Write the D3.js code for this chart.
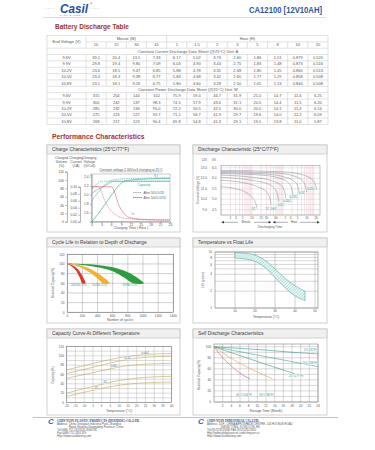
<!DOCTYPE html>
<html lang="en">
<head>
<meta charset="utf-8">
<title>CA12100 [12V10AH]</title>
<script src="https://d3js.org/d3.v7.min.js"></script>
<style>
  body { margin: 0; background: #fff; }
  svg { display: block; }
</style>
</head>
<body>
<script>
// ---------- discharge table ----------
var minuteCols = ["10", "15", "30", "45"];
var hourCols = ["1", "1.5", "2", "3", "5", "8", "10", "20"];
var endVoltages = ["9.6V", "9.9V", "10.2V", "10.5V", "10.8V"];
var currentData = [
  ["39.1", "20.4", "13.5", "7.33", "6.17", "5.02", "3.73", "2.60", "1.86", "1.51", "0.879", "0.520"],
  ["29.8", "19.4", "9.80", "7.09", "6.03", "4.90", "3.44", "2.75", "1.83", "1.48", "0.873", "0.516"],
  ["23.6", "18.5", "9.47", "6.85", "5.88", "4.78", "3.35", "2.68", "1.80", "1.45", "0.860", "0.513"],
  ["23.4", "18.3", "9.38", "6.77", "5.84", "4.68", "3.42", "2.60", "1.77", "1.29", "0.858", "0.508"],
  ["23.1", "18.1", "9.26", "6.75", "5.80", "4.60", "3.28", "2.50", "1.65", "1.13", "0.840", "0.508"]
];
var powerData = [
  ["315", "254", "144", "102", "75.9", "59.4", "44.7", "31.9", "21.0", "14.7", "11.6", "6.25"],
  ["300", "242", "137", "98.3", "74.5", "57.9", "43.6", "31.1", "20.5", "14.4", "11.5", "6.20"],
  ["285", "232", "136", "95.0", "72.2", "56.5", "42.5", "30.0", "20.0", "14.1", "11.4", "6.14"],
  ["275", "223", "127", "92.7", "71.1", "56.7", "41.9", "29.7", "19.6", "14.0", "11.2", "6.09"],
  ["268", "217", "123", "90.4", "69.8", "54.8", "41.3", "29.1", "19.5", "13.8", "11.0", "5.87"]
];

// ---------- charge characteristics ----------
var chargeHours = [0, 1, 2, 3, 4, 5, 6, 7, 8, 9, 10, 12, 15, 18, 21, 24];
var capacity100 = [0, 9, 19, 30, 41, 52, 63, 74, 84, 92, 97, 100, 102, 103, 104, 104];
var capacity50 = [50, 60, 70, 80, 89, 95, 99, 101, 102, 103, 103, 104, 104, 105, 105, 105];
var current100 = [0.1, 0.1, 0.1, 0.1, 0.1, 0.1, 0.1, 0.085, 0.055, 0.035, 0.022, 0.011, 0.007, 0.006, 0.005, 0.005];
var current50 = [0.1, 0.1, 0.1, 0.085, 0.06, 0.042, 0.03, 0.022, 0.016, 0.012, 0.01, 0.008, 0.006, 0.005, 0.005, 0.005];
var voltage100 = [2.02, 2.08, 2.12, 2.16, 2.2, 2.24, 2.28, 2.3, 2.3, 2.3, 2.3, 2.3, 2.3, 2.3, 2.3, 2.3];
var voltage50 = [2.12, 2.2, 2.26, 2.3, 2.3, 2.3, 2.3, 2.3, 2.3, 2.3, 2.3, 2.3, 2.3, 2.3, 2.3, 2.3];
var capacityTicks = [0, 20, 40, 60, 80, 100, 120];
var currentTicks = [0, 0.02, 0.04, 0.06, 0.08, 0.1];
var voltageTicks = [1.6, 1.8, 2.0, 2.2, 2.4];
var chargeTimeTicks = [0, 3, 6, 9, 12, 15, 18, 21, 24];

// ---------- discharge characteristic (minutes, volts) ----------
var dischargeRates = ["2C", "1C", "0.6C", "0.4C", "0.25C", "0.17C", "0.1C", "0.05C"];
var dischargeCurves = [
  [[1, 11.2], [3, 11.0], [6, 10.7], [10, 10.2], [13, 9.7], [15, 9.1]],
  [[1, 11.8], [5, 11.6], [15, 11.2], [30, 10.7], [38, 10.1], [42, 9.5]],
  [[1, 12.1], [10, 11.8], [30, 11.5], [55, 11.0], [68, 10.4], [74, 9.8]],
  [[1, 12.3], [10, 12.1], [40, 11.8], [90, 11.3], [115, 10.7], [125, 10.1]],
  [[1, 12.45], [20, 12.3], [80, 12.0], [160, 11.5], [200, 10.9], [215, 10.3]],
  [[1, 12.55], [30, 12.4], [120, 12.1], [260, 11.6], [320, 11.0], [340, 10.5]],
  [[1, 12.65], [60, 12.5], [240, 12.2], [460, 11.7], [560, 11.1], [600, 10.7]],
  [[1, 12.75], [120, 12.6], [480, 12.3], [950, 11.8], [1160, 11.3], [1250, 10.9]]
];
var voltTicks12 = [9, 10, 11, 12, 13];
var voltTicks6 = ["4.5", "5.0", "5.5", "6.0", "6.5"];
var minuteTicks = [2, 3, 5, 10, 20, 30, 60];
var hourTicks = [2, 3, 5, 10, 20];

// ---------- cycle life ----------
var dodLabels = ["100%D.O.D.", "50%D.O.D.", "30%D.O.D."];
var dodUpper = [
  [[0, 100], [60, 98], [120, 92], [170, 83], [210, 72], [240, 60]],
  [[0, 100], [100, 99], [200, 96], [300, 90], [400, 81], [500, 70], [560, 60]],
  [[0, 101], [200, 100], [400, 98], [600, 93], [800, 83], [900, 74], [1010, 60]]
];
var dodLower = [
  [[0, 100], [50, 96], [100, 89], [140, 80], [170, 70], [195, 60]],
  [[0, 100], [100, 97], [200, 91], [300, 82], [400, 70], [470, 60]],
  [[0, 100], [200, 98], [400, 93], [600, 85], [750, 72], [870, 60]]
];
var cycleTicks = [0, 200, 400, 600, 800, 1000, 1200, 1400];
var residualTicks = [0, 20, 40, 60, 80, 100, 120];

// ---------- float life ----------
var floatTemps = [10, 15, 20, 25, 30, 35, 40, 45];
var floatLifeUpper = [9.8, 9.5, 8.8, 7.1, 5.0, 3.4, 2.5, 2.0];
var floatLifeLower = [7.8, 7.5, 6.8, 5.3, 3.5, 2.3, 1.65, 1.35];
var floatTempTicks = [10, 20, 30, 40, 50];
var lifeTicks = [1, 2, 4, 6, 8, 10];

// ---------- capacity vs temperature ----------
var capTemps = [-20, -10, 0, 10, 20, 30, 40];
var capRates = ["0.05C", "0.1C", "0.6C", "1C", "2C"];
var capCurves = [
  [70, 79, 88, 96, 101, 104, 105],
  [62, 71, 80, 89, 95, 98, 99],
  [52, 60, 68, 76, 81, 83, 84],
  [20, 30, 39, 47, 52, 55, 56],
  [13, 22, 30, 37, 41, 43, 44]
];
var capTempTicks = [-20, -15, -10, -5, 0, 5, 10, 15, 20, 25, 30, 35, 40];
var capTicks = [0, 20, 40, 60, 80, 100, 120];

// ---------- self discharge (months, %) ----------
var selfLabels = ["0°C(32°F)", "20°C(68°F)", "25°C(77°F)", "30°C(86°F)", "40°C(104°F)"];
var selfCurves = [
  [[0, 100], [6, 97], [12, 94], [18, 90], [24, 87]],
  [[0, 100], [6, 91], [12, 82], [18, 73], [24, 64]],
  [[0, 100], [6, 84], [12, 68], [18.7, 51]],
  [[0, 100], [3, 84], [6, 70], [9, 58], [12, 47], [13.5, 42]],
  [[0, 100], [2, 80], [4, 65], [6, 52], [8.3, 42]]
];
var storageTicks = [2, 4, 6, 8, 10, 12, 14, 16, 18, 20, 22, 24];
var selfTicks = [0, 20, 40, 60, 80, 100];

var font = "'Liberation Sans', Arial, Helvetica, sans-serif";
var svg = d3.select("body").append("svg")
  .attr("width", 375).attr("height", 450)
  .style("font-family", font);

// ================= header =================
svg.append("text").attr("x", 45).attr("y", 9.5).attr("font-size", 6).attr("fill", "#7f9cc8")
  .attr("letter-spacing", 0.4).text("····");
svg.append("text").attr("x", 60).attr("y", 12.5).attr("font-size", 12).attr("font-weight", "bold")
  .attr("font-style", "italic").attr("fill", "#1d4fa3").attr("textLength", 28)
  .attr("lengthAdjust", "spacingAndGlyphs").text("Casil");
svg.append("text").attr("x", 90).attr("y", 5).attr("font-size", 3.2).attr("fill", "#c23").text("®");
svg.append("text").attr("x", 90).attr("y", 9.5).attr("font-size", 6).attr("fill", "#7f9cc8")
  .attr("letter-spacing", 0.4).text("····");
svg.append("text").attr("x", 60).attr("y", 16).attr("font-size", 1.8).attr("fill", "#557")
  .attr("textLength", 22).text("CASIL BATTERY");
svg.append("text").attr("x", 249).attr("y", 12.5).attr("font-size", 8.5).attr("font-weight", "bold")
  .attr("fill", "#2c56a0").attr("textLength", 73).attr("lengthAdjust", "spacingAndGlyphs")
  .text("CA12100 [12V10AH]");
svg.append("line").attr("x1", 43).attr("x2", 326).attr("y1", 17.5).attr("y2", 17.5)
  .attr("stroke", "#c4c4c4").attr("stroke-width", 0.6);

svg.append("text").attr("x", 55).attr("y", 28.5).attr("font-size", 6.5).attr("font-weight", "bold")
  .attr("fill", "#9b3535").text("Battery Discharge Table");

// ================= table =================
var colNames = minuteCols.concat(hourCols);
var tCol = d3.scaleBand().domain(d3.range(colNames.length)).range([86, 328]);
var tRow = d3.scaleBand().domain(d3.range(14)).range([35.5, 124.4]);
var rh = tRow.bandwidth();
var tg = svg.append("g").attr("font-size", 4).attr("fill", "#555").attr("text-anchor", "middle");
var ls = { stroke: "#b5b5b5", w: 0.4 };
function tline(x1, y1, x2, y2) {
  tg.append("line").attr("x1", x1).attr("y1", y1).attr("x2", x2).attr("y2", y2)
    .attr("stroke", ls.stroke).attr("stroke-width", ls.w);
}
tg.append("rect").attr("x", 47).attr("y", 35.5).attr("width", 281).attr("height", 14 * rh)
  .attr("fill", "none").attr("stroke", ls.stroke).attr("stroke-width", ls.w);
for (var r = 1; r < 14; r++) {
  tline(r === 1 ? 86 : 47, tRow(r), 328, tRow(r));
}
// first column divider
[0, 1, 3, 4, 5, 6, 7, 9, 10, 11, 12, 13].forEach(function(r) {
  tline(86, tRow(r), 86, tRow(r) + rh);
});
// min / hour divider on row 0
tline(tCol(4), tRow(0), tCol(4), tRow(0) + rh);
// column dividers
[1, 3, 4, 5, 6, 7, 9, 10, 11, 12, 13].forEach(function(r) {
  for (var c = 1; c < colNames.length; c++) tline(tCol(c), tRow(r), tCol(c), tRow(r) + rh);
});
function ttext(x, r, s) {
  tg.append("text").attr("x", x).attr("y", tRow(r) + rh * 0.72).text(s);
}
tg.append("text").attr("x", 66.5).attr("y", tRow(1) + 1.4).text("End Voltage (V)");
ttext((tCol(0) + tCol(4)) / 2, 0, "Minute (M)");
ttext((tCol(4) + 328) / 2, 0, "Hour (H)");
colNames.forEach(function(c, i) { ttext(tCol(i) + tCol.bandwidth() / 2, 1, c); });
ttext(188, 2, "Constant Current Discharge Data Sheet   (@25°C)    Unit: A");
ttext(188, 8, "Constant Power Discharge Data Sheet   (@25°C)    Unit: W");
endVoltages.forEach(function(v, i) {
  ttext(66.5, 3 + i, v);
  ttext(66.5, 9 + i, v);
  currentData[i].forEach(function(d, c) { ttext(tCol(c) + tCol.bandwidth() / 2, 3 + i, d); });
  powerData[i].forEach(function(d, c) { ttext(tCol(c) + tCol.bandwidth() / 2, 9 + i, d); });
});

svg.append("text").attr("x", 52).attr("y", 138.5).attr("font-size", 6.8).attr("font-weight", "bold")
  .attr("fill", "#b02a37").text("Performance Characteristics");

// ================= panels =================
function panel(x, y, w, h, title) {
  var g = svg.append("g");
  g.append("rect").attr("x", x).attr("y", y).attr("width", w).attr("height", h)
    .attr("fill", "#fff").attr("stroke", "#c6c6c6").attr("stroke-width", 0.8);
  g.append("rect").attr("x", x).attr("y", y).attr("width", w).attr("height", 9)
    .attr("fill", "#f0f0f0").attr("stroke", "#c6c6c6").attr("stroke-width", 0.8);
  g.append("text").attr("x", x + 5).attr("y", y + 6.4).attr("font-size", 4.9)
    .attr("fill", "#3a3a3a").text(title);
  return g;
}
function styleAxis(g) {
  g.attr("font-size", 3.4).attr("font-family", font);
  g.selectAll("text").attr("fill", "#555");
  g.selectAll(".tick line").attr("stroke", "#666").attr("stroke-width", 0.4);
  g.select(".domain").attr("stroke", "#666").attr("stroke-width", 0.5);
  return g;
}
function smallText(g, x, y, s, opts) {
  opts = opts || {};
  var t = g.append("text").attr("x", x).attr("y", y).attr("font-size", opts.size || 3.4)
    .attr("fill", opts.fill || "#555").attr("text-anchor", opts.anchor || "middle").text(s);
  if (opts.rotate) t.attr("transform", "rotate(-90," + x + "," + y + ")");
  if (opts.weight) t.attr("font-weight", opts.weight);
  return t;
}
function frame(g, x0, y0, x1, y1, c) {
  g.append("rect").attr("x", x0).attr("y", y0).attr("width", x1 - x0).attr("height", y1 - y0)
    .attr("fill", "none").attr("stroke", c || "#777").attr("stroke-width", 0.5);
}

// ---------- Charge characteristics ----------
var cg = panel(47, 145, 133, 87, "Charge Characteristics (25°C/77°F)");
var chX = d3.scaleLinear().domain([0, 24]).range([91.7, 170]);
var chCap = d3.scaleLinear().domain([0, 120]).range([221.7, 171.7]);
var chCur = d3.scaleLinear().domain([0, 0.1]).range([221.7, 186.7]);
var chVol = d3.scaleLinear().domain([1.4, 2.45]).range([221.7, 174.5]);
[["Charged", "Volume", "(%)", 61.5], ["Charging", "Current", "(CA)", 76], ["Charging", "Voltage", "(V/Cell)", 89.5]]
  .forEach(function(h) {
    smallText(cg, h[3], 158.7, h[0]); smallText(cg, h[3], 162.7, h[1]); smallText(cg, h[3], 166.7, h[2]);
  });
smallText(cg, 131, 170.5, "Constant voltage 2.30V/cell charging at 25°C", { size: 3.2 });
cg.append("line").attr("x1", 100).attr("x2", 162).attr("y1", 171.8).attr("y2", 171.8)
  .attr("stroke", "#777").attr("stroke-width", 0.4);
frame(cg, 91.7, 174, 170, 221.7, "#999");
styleAxis(cg.append("g").attr("transform", "translate(67,0)")
  .call(d3.axisLeft(chCap).tickValues(capacityTicks).tickSize(2).tickPadding(1)));
styleAxis(cg.append("g").attr("transform", "translate(80,0)")
  .call(d3.axisLeft(chCur).tickValues(currentTicks).tickSize(2).tickPadding(1).tickFormat(d3.format(".2f"))));
styleAxis(cg.append("g").attr("transform", "translate(91.7,0)")
  .call(d3.axisLeft(chVol).tickValues(voltageTicks).tickSize(2).tickPadding(1).tickFormat(d3.format(".1f"))));
styleAxis(cg.append("g").attr("transform", "translate(0,221.7)")
  .call(d3.axisBottom(chX).tickValues(chargeTimeTicks).tickSize(1.5).tickPadding(0.8)));
smallText(cg, 131, 229.3, "Charging Time ( Hour )");
function chLine(vals, scale, color, dash) {
  var pts = chargeHours.map(function(h, i) { return [h, vals[i]]; });
  cg.append("path").datum(pts)
    .attr("d", d3.line().x(function(d) { return chX(d[0]); }).y(function(d) { return scale(d[1]); })
      .curve(d3.curveMonotoneX))
    .attr("fill", "none").attr("stroke", color).attr("stroke-width", 0.6)
    .attr("stroke-dasharray", dash ? "1.4,0.8" : null);
}
chLine(capacity100, chCap, "#2f9c94", false);
chLine(capacity50, chCap, "#2f9c94", true);
chLine(voltage100, chVol, "#3aa7a0", false);
chLine(voltage50, chVol, "#3aa7a0", true);
chLine(current100, chCur, "#d0606e", false);
chLine(current50, chCur, "#d0606e", true);
smallText(cg, 156, 177.3, "V-t", { fill: "#2f9c94", size: 3.2 });
smallText(cg, 144, 186, "Capacity", { fill: "#2f9c94", size: 3.2 });
smallText(cg, 133, 214.5, "I-t", { fill: "#555", size: 3.2 });
cg.append("line").attr("x1", 133).attr("x2", 142).attr("y1", 192.5).attr("y2", 192.5)
  .attr("stroke", "#555").attr("stroke-width", 0.5).attr("stroke-dasharray", "1.4,0.8");
cg.append("line").attr("x1", 133).attr("x2", 142).attr("y1", 197.5).attr("y2", 197.5)
  .attr("stroke", "#555").attr("stroke-width", 0.5);
smallText(cg, 143.5, 193.6, "After 50% DOD", { anchor: "start", size: 3 });
smallText(cg, 143.5, 198.6, "After 100% DOD", { anchor: "start", size: 3 });

// ---------- Discharge characteristic ----------
var dg = panel(193, 145, 134, 87, "Discharge Characteristic (25°C/77°F)");
var dX = d3.scaleLog().domain([1, 1600]).range([221, 320]);
var dY = d3.scaleLinear().domain([8.5, 13.2]).range([215, 165.7]);
dX.ticks().forEach(function(t) {
  dg.append("line").attr("x1", dX(t)).attr("x2", dX(t)).attr("y1", 165.7).attr("y2", 215)
    .attr("stroke", "#e9a2b4").attr("stroke-width", 0.35);
});
d3.range(8.5, 13.3, 0.5).forEach(function(v) {
  dg.append("line").attr("x1", 221).attr("x2", 320).attr("y1", dY(v)).attr("y2", dY(v))
    .attr("stroke", "#b9b9b9").attr("stroke-width", 0.35);
});
frame(dg, 221, 165.7, 320, 215, "#888");
smallText(dg, 207, 161, "12V", { anchor: "end", size: 3 });
smallText(dg, 216, 161, "6V", { anchor: "end", size: 3 });
voltTicks12.forEach(function(v, i) {
  smallText(dg, 207, dY(v) + 1.2, v.toFixed(1), { anchor: "end", size: 3.2 });
  smallText(dg, 216.5, dY(v) + 1.2, voltTicks6[i], { anchor: "end", size: 3.2 });
});
smallText(dg, 198.5, 190, "Terminal Voltage (V)", { rotate: true, size: 3.2 });
minuteTicks.forEach(function(m) { smallText(dg, dX(m), 219.3, m, { size: 3 }); });
hourTicks.forEach(function(h) { smallText(dg, dX(h * 60), 219.3, h, { size: 3 }); });
[[221.5, 271], [273, 319.5]].forEach(function(a) {
  dg.append("line").attr("x1", a[0]).attr("x2", a[1]).attr("y1", 222.3).attr("y2", 222.3)
    .attr("stroke", "#333").attr("stroke-width", 0.4);
  dg.append("path").attr("d", "M" + a[0] + ",222.3l2.4,-1.2v2.4z").attr("fill", "#222");
  dg.append("path").attr("d", "M" + a[1] + ",222.3l-2.4,-1.2v2.4z").attr("fill", "#222");
});
dg.append("rect").attr("x", 238).attr("y", 220.6).attr("width", 16).attr("height", 3.4).attr("fill", "#fff");
dg.append("rect").attr("x", 288).attr("y", 220.6).attr("width", 12).attr("height", 3.4).attr("fill", "#fff");
smallText(dg, 246, 223.4, "Minute", { size: 3 });
smallText(dg, 294, 223.4, "Hour", { size: 3 });
smallText(dg, 270, 228, "Discharging Time", { size: 3.2 });
var dLine = d3.line().x(function(d) { return dX(d[0]); }).y(function(d) { return dY(d[1]); })
  .curve(d3.curveMonotoneX);
dischargeCurves.forEach(function(c, i) {
  dg.append("path").datum(c).attr("d", dLine).attr("fill", "none")
    .attr("stroke", "#8a8f99").attr("stroke-width", 0.55);
});
// labels staggered so they climb with the curve ends
dischargeCurves.forEach(function(c, i) {
  var last = c[c.length - 1];
  smallText(dg, dX(last[0]) - 2, 209.5 - Math.max(0, i - 2) * 4, dischargeRates[i],
    { size: 2.9, fill: "#2f9c94", anchor: "end" })
    .attr("paint-order", "stroke").attr("stroke", "#e9f6f4").attr("stroke-width", 1);
});

// ---------- Cycle life ----------
var yg = panel(47, 238, 133, 85, "Cycle Life in Relation to Depth of Discharge");
var cyX = d3.scaleLinear().domain([0, 1400]).range([67.3, 173.3]);
var cyY = d3.scaleLinear().domain([0, 120]).range([312.3, 254.3]);
cycleTicks.forEach(function(c) {
  yg.append("line").attr("x1", cyX(c)).attr("x2", cyX(c)).attr("y1", 254.3).attr("y2", 312.3)
    .attr("stroke", "#8a8a8a").attr("stroke-width", 0.4);
});
residualTicks.forEach(function(v) {
  yg.append("line").attr("x1", 67.3).attr("x2", 173.3).attr("y1", cyY(v)).attr("y2", cyY(v))
    .attr("stroke", "#8a8a8a").attr("stroke-width", 0.4);
});
frame(yg, 67.3, 254.3, 173.3, 312.3, "#666");
residualTicks.forEach(function(v) { smallText(yg, 64.5, cyY(v) + 1.2, v, { anchor: "end", size: 3.2 }); });
cycleTicks.forEach(function(c) { smallText(yg, cyX(c), 316.8, c, { size: 3.2 }); });
smallText(yg, 120, 321.3, "Number of cycles", { size: 3.4 });
smallText(yg, 54, 283, "Residual Capacity(%)", { rotate: true, size: 3.2 });
var bandColors = ["#e2342b", "#f4b12f", "#2d9d3d"];
var cyLine = d3.line().x(function(d) { return cyX(d[0]); }).y(function(d) { return cyY(d[1]); })
  .curve(d3.curveCatmullRom);
[2, 1, 0].forEach(function(i) {
  var pts = dodUpper[i].concat(dodLower[i].slice().reverse());
  yg.append("path").attr("d", cyLine(pts) + "Z").attr("fill", bandColors[i]).attr("stroke", "none");
});
dodLabels.forEach(function(l, i) {
  var end = dodLower[i][dodLower[i].length - 1];
  smallText(yg, cyX(end[0]) - 3, cyY(54), l, { size: 3, fill: "#2f9c94" });
});

// ---------- Temperature vs float life ----------
var fg = panel(193, 238, 134, 85, "Temperature vs Float Life");
var defs = svg.append("defs");
var pat = defs.append("pattern").attr("id", "hatch").attr("patternUnits", "userSpaceOnUse")
  .attr("width", 2.2).attr("height", 2.2).attr("patternTransform", "rotate(45)");
pat.append("rect").attr("width", 2.2).attr("height", 2.2).attr("fill", "#e8f6f4");
pat.append("line").attr("x1", 0).attr("y1", 0).attr("x2", 0).attr("y2", 2.2)
  .attr("stroke", "#44a9a2").attr("stroke-width", 0.5);
var tfX = d3.scaleLinear().domain([0, 51.5]).range([215, 318]);
var tfY = d3.scaleLog().domain([1, 10]).range([308, 252]);
d3.range(1, 11).forEach(function(v) {
  fg.append("line").attr("x1", 215).attr("x2", 318).attr("y1", tfY(v)).attr("y2", tfY(v))
    .attr("stroke", "#8a8a8a").attr("stroke-width", 0.35);
});
floatTempTicks.forEach(function(t) {
  fg.append("line").attr("x1", tfX(t)).attr("x2", tfX(t)).attr("y1", 252).attr("y2", 308)
    .attr("stroke", "#8a8a8a").attr("stroke-width", 0.4);
});
frame(fg, 215, 252, 318, 308, "#666");
lifeTicks.forEach(function(v) { smallText(fg, 212, tfY(v) + 1.2, v, { anchor: "end", size: 3.2 }); });
floatTempTicks.forEach(function(t) { smallText(fg, tfX(t), 312, t, { size: 3.2 }); });
smallText(fg, 266, 317.5, "Temperature (°C)", { size: 3.4 });
smallText(fg, 204, 280, "Life (years)", { rotate: true, size: 3.2 });
var flPts = floatTemps.map(function(t, i) { return [t, floatLifeLower[i], floatLifeUpper[i]]; });
fg.append("path").datum(flPts)
  .attr("d", d3.area().x(function(d) { return tfX(d[0]); })
    .y0(function(d) { return tfY(d[1]); }).y1(function(d) { return tfY(d[2]); })
    .curve(d3.curveMonotoneX))
  .attr("fill", "url(#hatch)").attr("stroke", "#2f9c94").attr("stroke-width", 0.5);

// ---------- Capacity vs temperature ----------
var kg = panel(47, 329, 133, 86, "Capacity Curve At Different Temperature");
var ctX = d3.scaleLinear().domain([-20, 40]).range([66.7, 171.7]);
var ctY = d3.scaleLinear().domain([0, 120]).range([402.5, 346.5]);
capTempTicks.forEach(function(t) {
  kg.append("line").attr("x1", ctX(t)).attr("x2", ctX(t)).attr("y1", 346.5).attr("y2", 402.5)
    .attr("stroke", "#999").attr("stroke-width", 0.35);
});
d3.range(0, 121, 10).forEach(function(v) {
  kg.append("line").attr("x1", 66.7).attr("x2", 171.7).attr("y1", ctY(v)).attr("y2", ctY(v))
    .attr("stroke", "#999").attr("stroke-width", 0.35);
});
frame(kg, 66.7, 346.5, 171.7, 402.5, "#666");
capTicks.forEach(function(v) { smallText(kg, 64, ctY(v) + 1.2, v, { anchor: "end", size: 3.2 }); });
capTempTicks.forEach(function(t) { smallText(kg, ctX(t), 407, t, { size: 3 }); });
smallText(kg, 119, 412.3, "Temperature (°C)", { size: 3.4 });
smallText(kg, 54, 375, "Capacity(%)", { rotate: true, size: 3.2 });
var capLabelAt = [25, 15, 7, 2, -3];
capCurves.forEach(function(vals, i) {
  var pts = capTemps.map(function(t, j) { return [t, vals[j]]; });
  var line = d3.line().x(function(d) { return ctX(d[0]); }).y(function(d) { return ctY(d[1]); })
    .curve(d3.curveMonotoneX);
  kg.append("path").datum(pts).attr("d", line).attr("fill", "none")
    .attr("stroke", "#bda862").attr("stroke-width", 0.6);
  var yAt = d3.scaleLinear().domain(capTemps).range(vals)(capLabelAt[i]);
  smallText(kg, ctX(capLabelAt[i]), ctY(yAt) - 0.8, capRates[i], { size: 3, fill: "#444" })
    .attr("paint-order", "stroke").attr("stroke", "#fff").attr("stroke-width", 0.8);
});

// ---------- Self discharge ----------
var sg = panel(193, 329, 134, 86, "Self Discharge Characteristics");
var sdX = d3.scaleLinear().domain([0, 24]).range([214, 318]);
var sdY = d3.scaleLinear().domain([0, 105]).range([402, 344]);
storageTicks.forEach(function(t) {
  sg.append("line").attr("x1", sdX(t)).attr("x2", sdX(t)).attr("y1", 344).attr("y2", 402)
    .attr("stroke", "#8a8a8a").attr("stroke-width", 0.35);
});
d3.range(0, 101, 10).forEach(function(v) {
  sg.append("line").attr("x1", 214).attr("x2", 318).attr("y1", sdY(v)).attr("y2", sdY(v))
    .attr("stroke", "#8a8a8a").attr("stroke-width", 0.35);
});
frame(sg, 214, 344, 318, 402, "#666");
selfTicks.forEach(function(v) { smallText(sg, 211, sdY(v) + 1.2, v, { anchor: "end", size: 3.2 }); });
storageTicks.forEach(function(t) { smallText(sg, sdX(t), 406.5, t, { size: 3.2 }); });
smallText(sg, 266, 411.5, "Storage Time (Month)", { size: 3.4 });
smallText(sg, 200, 375, "Residual Capacity(%)", { rotate: true, size: 3.2 });
var selfColors = ["#2f9c94", "#3f9d98", "#3d9a72", "#e3a056", "#c8577a"];
var sdLine = d3.line().x(function(d) { return sdX(d[0]); }).y(function(d) { return sdY(d[1]); })
  .curve(d3.curveMonotoneX);
selfCurves.forEach(function(c, i) {
  sg.append("path").datum(c).attr("d", sdLine).attr("fill", "none")
    .attr("stroke", selfColors[i]).attr("stroke-width", 0.6);
  var last = c[c.length - 1];
  var lx, ly, anchor = "middle";
  if (last[0] >= 24) { lx = sdX(24) - 1; ly = sdY(last[1]) - 2.5; anchor = "end"; }
  else if (i === 2) { lx = sdX(last[0]) + 1; ly = sdY(last[1]) + 3.5; }
  else { lx = sdX(last[0]) - 6; ly = sdY(10); }
  smallText(sg, lx, ly, selfLabels[i], { size: 2.9, fill: "#2f9c94", anchor: anchor })
    .attr("paint-order", "stroke").attr("stroke", "#fff").attr("stroke-width", 0.8);
});

// ================= footer =================
svg.append("line").attr("x1", 33).attr("x2", 338).attr("y1", 417.5).attr("y2", 417.5)
  .attr("stroke", "#9fd0e6").attr("stroke-width", 1.2);
function footer(x, name, lines) {
  svg.append("text").attr("x", x - 9).attr("y", 424).attr("font-size", 8).attr("font-weight", "bold")
    .attr("font-style", "italic").attr("fill", "#1c6fbf").text("C");
  svg.append("text").attr("x", x).attr("y", 421.5).attr("font-size", 3.2).attr("font-weight", "bold")
    .attr("font-family", "'Liberation Serif', serif").attr("fill", "#1d3c86").text(name);
  lines.forEach(function(l, i) {
    svg.append("text").attr("x", x + (l.indent || 0)).attr("y", 425 + i * 3).attr("font-size", 2.8)
      .attr("fill", "#555").text(l.t);
  });
}
footer(57, "CHIN YUIN PLASTIC PRODUCTS (HUIZHOU) CO.,LTD.", [
  { t: "Address: China Xinxiapan Industrial Park, Zhonghai" },
  { t: "Road, Huizhou,Guangdong Province, China", indent: 12 },
  { t: "Tel:0086-752-2627626   2666734" },
  { t: "Fax:0086-752-2651319" },
  { t: "Http://www.casilbattery.com" }
]);
footer(207, "CHIN YUIN INDUSTRIAL CO.,LTD.", [
  { t: "Address: 10/F., CHINA AEROSPACE CENTRE, 143 HOI BUN ROAD," },
  { t: "KWUN TONG, KOWLOON, HK", indent: 14 },
  { t: "Tel:(852)23513085    FAX:(852)23513310" },
  { t: "Http://www.globalsources.com/chinyuin.co" },
  { t: "Http://www.casilbattery.com" }
]);
</script>
</body>
</html>
